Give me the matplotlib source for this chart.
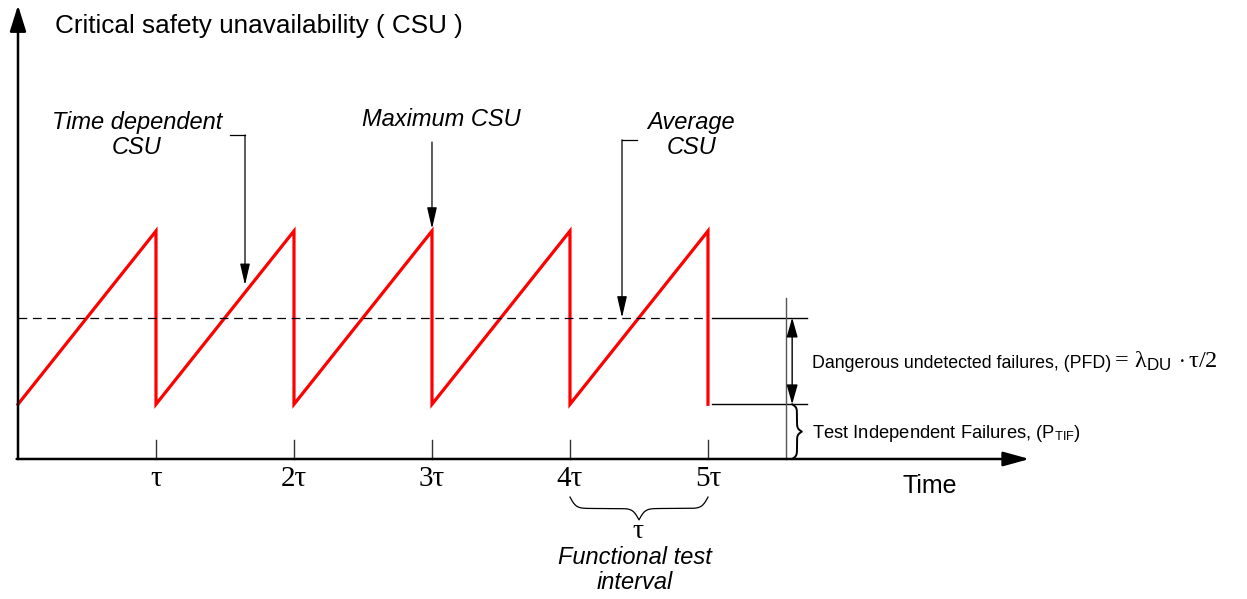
import matplotlib.pyplot as plt
import numpy as np

plt.rcParams['font.family'] = ['Liberation Sans', 'DejaVu Sans']
plt.rcParams['mathtext.fontset'] = 'custom'
plt.rcParams['mathtext.rm'] = 'Liberation Serif'
plt.rcParams['mathtext.it'] = 'Liberation Serif:italic'
plt.rcParams['mathtext.sf'] = 'Liberation Sans'

# data (time in units of tau, CSU in arbitrary units)
intervals = [0, 1, 2, 3, 4, 5]
tick_labels = ['τ', '2τ', '3τ', '4τ', '5τ']
p_tif = 0.24          # test independent failures (floor of the sawtooth)
csu_max = 1.0         # maximum CSU, reached just before each test
csu_avg = (p_tif + csu_max) / 2

# sawtooth: rises from p_tif to csu_max in each interval, drops at each test
saw_t = [intervals[0]]
saw_v = [p_tif]
for k in intervals[1:]:
    saw_t += [k, k]
    saw_v += [csu_max, p_tif]


def brace(ax, a, b, pos, depth, beta, horizontal=True, **kw):
    # curly brace from a to b, tip pointing away by depth
    half = np.linspace(0, 0.5, 200)
    y = 1 / (1 + np.exp(-beta * (half - half[0]))) + 1 / (1 + np.exp(-beta * (half - half[-1])))
    y = np.concatenate((y, y[-2::-1])) - 0.5
    u = a + (b - a) * np.linspace(0, 1, len(y))
    if horizontal:
        ax.plot(u, pos - depth * y, **kw)
    else:
        ax.plot(pos + depth * y, u, **kw)


def arrow(ax, start, end, hl=0.65, hw=0.15, lw=1.0, both=False):
    style = '<|-|>' if both else '-|>'
    ax.annotate('', xy=end, xytext=start,
                arrowprops=dict(arrowstyle=f'{style},head_length={hl},head_width={hw}',
                                color='k', lw=lw, shrinkA=0, shrinkB=0, mutation_scale=20))


fig = plt.figure(figsize=(12.47, 5.99), dpi=100)
ax = fig.add_axes([0, 0, 1, 1])
ax.set_xlim(-0.1304, 8.906)
ax.set_ylim(-0.614, 2.013)
ax.axis('off')

# axes with arrows
arrow(ax, (0, 0), (0, 1.99), hl=0.8, hw=0.25, lw=1.8)
arrow(ax, (-0.01, 0), (7.33, 0), hl=0.8, hw=0.22, lw=1.8)
ax.text(0.27, 1.90, 'Critical safety unavailability ( CSU )', fontsize=18.8, ha='left', va='center')
ax.text(6.41, -0.118, 'Time', fontsize=18, ha='left', va='center')

# ticks and tick labels
for k, lab in zip(intervals[1:], tick_labels):
    ax.plot([k, k], [0, 0.083], color='#333333', lw=1)
    ax.text(k, -0.088, lab, fontsize=21, family='Liberation Serif', ha='center', va='center')

# sawtooth and average
ax.plot(saw_t, saw_v, color='red', lw=2.3, solid_joinstyle='miter')
ax.plot([0, intervals[-1]], [csu_avg, csu_avg], color='k', lw=0.9, dashes=(7, 4.5))

# right side: levels, dimension arrow, brace
ax.plot([5.03, 5.72], [csu_avg, csu_avg], color='k', lw=1)
ax.plot([5.03, 5.72], [p_tif, p_tif], color='k', lw=1)
ax.plot([5.565, 5.565], [0, 0.706], color='#555555', lw=1)
arrow(ax, (5.61, csu_avg), (5.61, p_tif), hl=0.6, hw=0.17, lw=1.0, both=True)
brace(ax, 0, p_tif, 5.61, 0.07, 35, horizontal=False, color='k', lw=1.4)
ax.text(5.754, 0.417, 'Dangerous undetected failures, (PFD)', fontsize=12.8, ha='left', va='center')
ax.text(7.92, 0.43, r'$=\,\mathrm{\lambda}_{\mathsf{DU}}\,\cdot\mathrm{\tau}/2$', fontsize=17.5,
        ha='left', va='center')
ax.text(5.754, 0.11, r'Test Independent Failures, (P$_{\mathsf{TIF}}$)', fontsize=13.2,
        ha='left', va='center')

# bottom brace: functional test interval
brace(ax, 4, 5, -0.167, 0.10, 45, horizontal=True, color='k', lw=0.9)
ax.text(4.49, -0.32, 'τ', fontsize=20, family='Liberation Serif', ha='center', va='center')
ax.text(4.47, -0.487, 'Functional test\ninterval', fontsize=17, style='italic',
        ha='center', va='center', linespacing=1.1)

# callouts
ax.text(0.862, 1.42, 'Time dependent\nCSU', fontsize=17, style='italic',
        ha='center', va='center', linespacing=1.1)
ax.plot([1.536, 1.645], [1.421, 1.421], color='k', lw=0.9)
arrow(ax, (1.645, 1.421), (1.645, 0.763), lw=0.9)

ax.text(3.07, 1.487, 'Maximum CSU', fontsize=17, style='italic', ha='center', va='center')
arrow(ax, (3, 1.39), (3, csu_max + 0.01), lw=0.9)

ax.text(4.88, 1.42, 'Average\nCSU', fontsize=17, style='italic',
        ha='center', va='center', linespacing=1.1)
ax.plot([4.486, 4.377], [1.40, 1.40], color='k', lw=0.9)
arrow(ax, (4.377, 1.40), (4.377, csu_avg), lw=0.9)

fig.savefig('out.png', dpi=100)
